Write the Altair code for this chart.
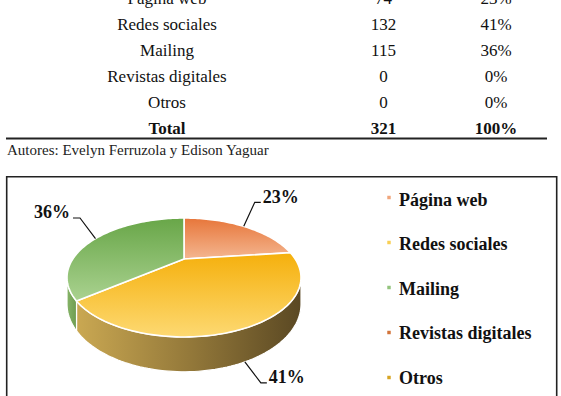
import altair as alt
import numpy as np
import pandas as pd

# ---------------- data ----------------
categories = ["Página web", "Redes sociales", "Mailing", "Revistas digitales", "Otros"]
counts = [74, 132, 115, 0, 0]
total_name = "Total"
source_note = "Autores: Evelyn Ferruzola y Edison Yaguar"

# ---------------- style ----------------
SERIF = "Liberation Serif"
top_gradients = {
    "Página web": ("#e7763a", "#f4b690"),
    "Redes sociales": ("#f5b00c", "#fdd972"),
    "Mailing": ("#68a648", "#aad290"),
}
side_gradients = {
    "Redes sociales": ["#caa852", "#94793a", "#5a4823"],
    "Mailing": ["#86b468", "#6e9c50"],
}
legend_colors = ["#f0a67c", "#f8cf55", "#93c47d", "#d2743a", "#d7a523"]

PERSP = 0.311      # perspective strength of the 3-D pie
TILT = 0.483       # vertical squash of the pie's top face
DEPTH = 0.2156     # thickness of the pie
PIE_SCALE = 111.2
PIE_CENTER = [184, 259]
# pixel offsets from each slice's anchor: elbow, end of leader, label, alignment
label_layout = {
    "Página web": ((11, -24), (17, -24), (19, -23.5), "left"),
    "Redes sociales": ((16, 21), (22, 21), (24, 21.5), "left"),
    "Mailing": ((-15.5, -20.6), (-22.5, -20.6), (-25.5, -20.3), "right"),
}

# ---------------- derived ----------------
total = sum(counts)
fracs = [c / total for c in counts]
pcts = [int(round(100 * f)) for f in fracs]
starts = np.cumsum([0.0] + fracs[:-1]) * 2 * np.pi
ends = np.cumsum(fracs) * 2 * np.pi
vis_lo = float(np.arccos(-PERSP))
vis_hi = 2 * np.pi - vis_lo


def rim(theta, lower=False):
    d = 1 + PERSP * np.cos(theta)
    x = np.sin(theta) / d
    y = TILT * np.cos(theta) / d
    if lower:
        y = y - DEPTH / d
    return x, y


def arc_pts(a, b, lower=False):
    n = max(int(np.degrees(b - a) / 1.5), 2) + 1
    th = np.linspace(a, b, n)
    x, y = rim(th, lower)
    return [[float(px), float(py)] for px, py in zip(x, y)]


def feature(name, ring):
    ring = ring + [ring[0]]
    return {"type": "Feature", "properties": {"name": name},
            "geometry": {"type": "Polygon", "coordinates": [ring]}}


proj = dict(type="identity", scale=PIE_SCALE, translate=PIE_CENTER, reflectY=True)

layers = []

# frame around the chart area
frame = alt.Chart(pd.DataFrame({"k": [0]})).mark_rect(
    filled=False, stroke="#222222", strokeWidth=1.6
).encode(x=alt.value(6.7), x2=alt.value(556.7), y=alt.value(176.7), y2=alt.value(420))
layers.append(frame)

# sides of the pie (front part only)
for i, name in enumerate(categories):
    if counts[i] == 0 or name not in side_gradients:
        continue
    lo, hi = max(starts[i], vis_lo), min(ends[i], vis_hi)
    if lo >= hi:
        continue
    ring = arc_pts(lo, hi) + arc_pts(lo, hi, lower=True)[::-1]
    cols = side_gradients[name]
    stops = [alt.GradientStop(offset=k / (len(cols) - 1), color=c) for k, c in enumerate(cols)]
    layers.append(
        alt.Chart(alt.Data(values=[feature(name, ring)])).mark_geoshape(
            fill=alt.Gradient(gradient="linear", stops=stops, x1=0, x2=1, y1=0, y2=0),
            stroke="white", strokeWidth=1.2,
        ).project(**proj)
    )

# top faces
for i, name in enumerate(categories):
    if counts[i] == 0:
        continue
    ring = [[0.0, 0.0]] + arc_pts(starts[i], ends[i])
    c0, c1 = top_gradients[name]
    layers.append(
        alt.Chart(alt.Data(values=[feature(name, ring)])).mark_geoshape(
            fill=alt.Gradient(gradient="linear",
                              stops=[alt.GradientStop(offset=0, color=c0),
                                     alt.GradientStop(offset=1, color=c1)],
                              x1=0, x2=0, y1=0, y2=1),
            stroke="white", strokeWidth=1.6,
        ).project(**proj)
    )

# leader lines and percentage labels
lead_rows, lab_rows = [], []
for i, name in enumerate(categories):
    if counts[i] == 0:
        continue
    mid = (starts[i] + ends[i]) / 2
    ax, ay = rim(mid, lower=bool(vis_lo <= mid <= vis_hi))
    elbow, end, txt, al = label_layout[name]
    pts = [(0, 0), elbow, end]
    for k, (dx, dy) in enumerate(pts):
        lead_rows.append({"slice": name, "k": k,
                          "lon": float(ax + dx / PIE_SCALE), "lat": float(ay - dy / PIE_SCALE)})
    lab_rows.append({"slice": name, "label": f"{pcts[i]}%", "align": al,
                     "lon": float(ax + txt[0] / PIE_SCALE), "lat": float(ay - txt[1] / PIE_SCALE)})

lead_df = pd.DataFrame(lead_rows)
lab_df = pd.DataFrame(lab_rows)

layers.append(
    alt.Chart(lead_df).mark_line(color="#111111", strokeWidth=1.2).encode(
        longitude="lon:Q", latitude="lat:Q", detail="slice:N", order="k:O"
    ).project(**proj)
)
for al in ["left", "right"]:
    layers.append(
        alt.Chart(lab_df).transform_filter(alt.datum.align == al).mark_text(
            font=SERIF, fontSize=18, fontWeight="bold", align=al, baseline="alphabetic",
            color="#111111",
        ).encode(longitude="lon:Q", latitude="lat:Q", text="label:N").project(**proj)
    )

# legend (built from the categories)
leg_df = pd.DataFrame({"name": categories, "idx": list(range(len(categories)))})
layers.append(
    alt.Chart(leg_df).mark_square(size=12, opacity=1).encode(
        x=alt.value(389),
        y=alt.Y("idx:Q", scale=alt.Scale(domain=[0, 4], range=[197.5, 377.5], nice=False, zero=False), axis=None),
        color=alt.Color("name:N", scale=alt.Scale(domain=categories, range=legend_colors), legend=None),
    )
)
layers.append(
    alt.Chart(leg_df).mark_text(
        font=SERIF, fontSize=18, fontWeight="bold", align="left", baseline="alphabetic", color="#111111"
    ).encode(
        x=alt.value(399),
        y=alt.Y("idx:Q", scale=alt.Scale(domain=[0, 4], range=[205.5, 384], nice=False, zero=False), axis=None),
        text="name:N",
    )
)

# table above the chart
tab_df = pd.DataFrame({
    "row": list(range(len(categories) + 1)),
    "name": categories + [total_name],
    "count": [str(c) for c in counts] + [str(total)],
    "pct": [f"{p}%" for p in pcts] + ["100%"],
    "bold": [False] * len(categories) + [True],
})
tab_y = alt.Y("row:Q", scale=alt.Scale(domain=[0, 5], range=[4, 134], nice=False, zero=False), axis=None)
for col, xpos in [("name", 167), ("count", 383.5), ("pct", 496)]:
    for bold in [False, True]:
        layers.append(
            alt.Chart(tab_df).transform_filter(alt.datum.bold == bold).mark_text(
                font=SERIF, fontSize=17, fontWeight="bold" if bold else "normal",
                align="center", baseline="alphabetic", color="#111111",
            ).encode(x=alt.value(xpos), y=tab_y, text=f"{col}:N")
        )

rule = alt.Chart(pd.DataFrame({"k": [0]})).mark_rule(color="#222222", strokeWidth=1.8).encode(
    x=alt.value(6), x2=alt.value(547), y=alt.value(138.5)
)
layers.append(rule)
note = alt.Chart(pd.DataFrame({"t": [source_note]})).mark_text(
    font=SERIF, fontSize=15, align="left", baseline="alphabetic", color="#222222"
).encode(x=alt.value(7), y=alt.value(155), text="t:N")
layers.append(note)

chart = alt.layer(*layers).resolve_scale(
    x="independent", y="independent", color="independent"
).properties(
    width=561, height=396, padding=0, background="white",
    autosize=alt.AutoSizeParams(type="none"),
).configure_view(stroke=None)

chart.save("out.html", embed_options={"renderer": "svg", "actions": False})
